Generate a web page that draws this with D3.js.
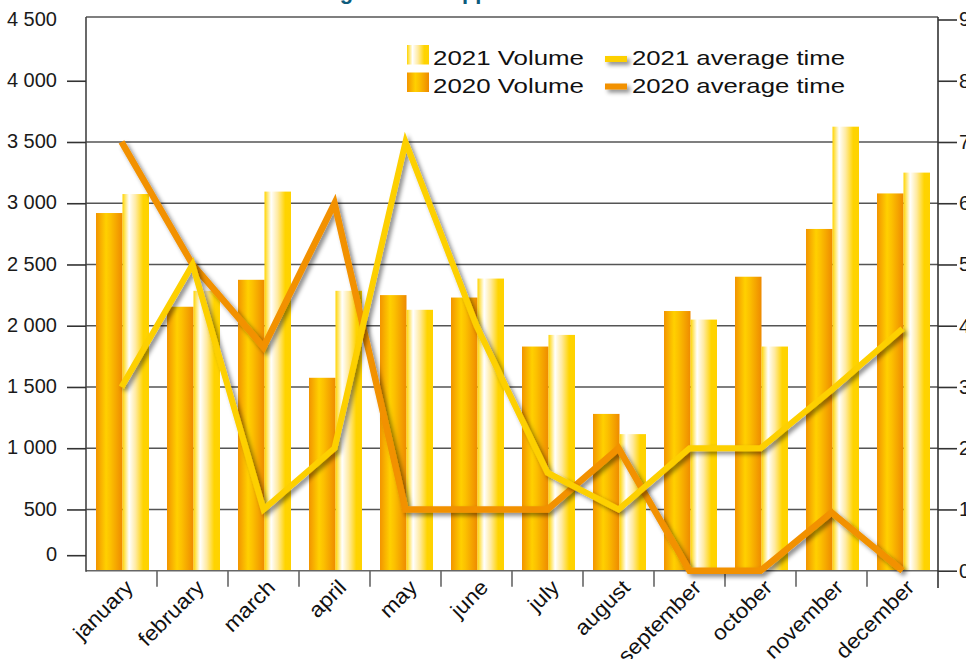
<!DOCTYPE html>
<html>
<head>
<meta charset="utf-8">
<script src="https://cdn.jsdelivr.net/npm/d3@7"></script>
<style>
  html, body { margin: 0; padding: 0; background: #fff; }
  svg { display: block; font-family: "Liberation Sans", Arial, sans-serif; }
</style>
</head>
<body>
<svg id="chart" width="966" height="659"></svg>
<script>
// ---- data ----
const months = ["january","february","march","april","may","june","july","august","september","october","november","december"];
const volume2020 = [2920, 2155, 2375, 1575, 2250, 2230, 1830, 1280, 2120, 2400, 2790, 3080];
const volume2021 = [3075, 2285, 3095, 2285, 2130, 2385, 1925, 1115, 2050, 1830, 3625, 3250];
const avgTime2021 = [3, 5, 1, 2, 7, 4, 1.6, 1, 2, 2, 2.95, 3.95];
const avgTime2020 = [7, 5, 3.65, 6, 1, 1, 1, 2, 0, 0, 0.95, 0];
const leftTicks = [0, 500, 1000, 1500, 2000, 2500, 3000, 3500, 4000, 4500];
const rightTicks = [0, 1, 2, 3, 4, 5, 6, 7, 8, 9];
const gridTicks = [500, 1000, 1500, 2000, 2500, 3000, 3500];
const seriesKeys = ["2020", "2021"];
const legendVolume = [{label: "2021 Volume", grad: "g2021"}, {label: "2020 Volume", grad: "g2020"}];
const legendTime = [{label: "2021 average time", color: "#fdd000"}, {label: "2020 average time", color: "#f29100"}];
const titleText = "Volume and average time of applications";

// ---- layout ----
const L = 86, R = 938, T = 17, B = 570.7;
const svg = d3.select("#chart");
const defs = svg.append("defs");

const g20 = defs.append("linearGradient").attr("id", "g2020").attr("x1", "0%").attr("x2", "100%").attr("y1", "0%").attr("y2", "0%");
[["0%", "#f29400"], ["38%", "#ffd000"], ["55%", "#fcc000"], ["100%", "#ee8a00"]].forEach(s => g20.append("stop").attr("offset", s[0]).attr("stop-color", s[1]));
const g21 = defs.append("linearGradient").attr("id", "g2021").attr("x1", "0%").attr("x2", "100%").attr("y1", "0%").attr("y2", "0%");
[["0%", "#ffd400"], ["25%", "#ffffff"], ["50%", "#ffeaa0"], ["78%", "#ffd400"], ["100%", "#ffd200"]].forEach(s => g21.append("stop").attr("offset", s[0]).attr("stop-color", s[1]));

const shadow = defs.append("filter").attr("id", "shadow").attr("filterUnits", "userSpaceOnUse")
  .attr("x", 0).attr("y", 0).attr("width", 966).attr("height", 659);
shadow.append("feDropShadow").attr("dx", 3).attr("dy", 3).attr("stdDeviation", 2).attr("flood-color", "#000").attr("flood-opacity", 0.45);

const x = d3.scaleBand().domain(months).range([L, R]).padding(0);
const xSub = d3.scaleBand().domain(seriesKeys).range([10, 63]).padding(0);
const yL = d3.scaleLinear().domain([0, 4500]).range([B, 19.5]);
const yR = d3.scaleLinear().domain([0, 9]).range([B, 19.5]);

// title (cut off at the top: only descenders show)
svg.append("text").attr("x", 153).attr("y", -1).attr("font-size", 22).attr("font-weight", "bold")
  .attr("fill", "#0d5b7c").text(titleText);

// gridlines
svg.append("g").selectAll("line").data(gridTicks).join("line")
  .attr("x1", L).attr("x2", R).attr("y1", d => yL(d)).attr("y2", d => yL(d))
  .attr("stroke", "#555").attr("stroke-width", 1.6);

// bars
const bars = svg.append("g");
months.forEach((m, i) => {
  const vals = [volume2020[i], volume2021[i]];
  bars.selectAll(null).data(seriesKeys.map((k, j) => ({k, v: vals[j]}))).join("rect")
    .attr("x", d => x(m) + xSub(d.k))
    .attr("width", xSub.bandwidth())
    .attr("y", d => yL(d.v))
    .attr("height", d => B - yL(d.v))
    .attr("fill", d => d.k === "2020" ? "url(#g2020)" : "url(#g2021)");
});

// bottom baseline
svg.append("line").attr("x1", L).attr("x2", R).attr("y1", B).attr("y2", B).attr("stroke", "#666").attr("stroke-width", 1.6);
// frame
svg.append("line").attr("x1", L).attr("x2", R).attr("y1", T).attr("y2", T).attr("stroke", "#555").attr("stroke-width", 1.6);
svg.append("line").attr("x1", L).attr("x2", L).attr("y1", T).attr("y2", B + 1).attr("stroke", "#444").attr("stroke-width", 1.6);
svg.append("line").attr("x1", R).attr("x2", R).attr("y1", T).attr("y2", 588).attr("stroke", "#333").attr("stroke-width", 1.6);

// left axis
const fmt = d => d3.format(",")(d).replace(/,/g, " ");
const axL = svg.append("g").attr("transform", `translate(${L},0)`)
  .call(d3.axisLeft(yL).tickValues(leftTicks).tickSize(19).tickPadding(10).tickFormat(fmt));
axL.select(".domain").remove();
axL.selectAll(".tick line").attr("stroke", "#333").attr("stroke-width", 1.6).filter(d => d === 4500).remove();
axL.selectAll(".tick").filter(d => d === 0).attr("transform", `translate(0,${yL(0) - 15})`);
axL.selectAll(".tick text").attr("font-size", 20).attr("fill", "#1a1a1a").attr("font-family", "'Liberation Sans', Arial, sans-serif").attr("dy", "0.28em");

// right axis
const axR = svg.append("g").attr("transform", `translate(${R},0)`)
  .call(d3.axisRight(yR).tickValues(rightTicks).tickSize(19).tickPadding(2));
axR.select(".domain").remove();
axR.selectAll(".tick line").attr("stroke", "#333").attr("stroke-width", 1.6);
axR.selectAll(".tick text").attr("font-size", 20).attr("fill", "#1a1a1a").attr("font-family", "'Liberation Sans', Arial, sans-serif").attr("dy", "0.32em");

// bottom axis
const axB = svg.append("g").attr("transform", `translate(0,${B})`)
  .call(d3.axisBottom(x).tickSize(0).tickPadding(0));
axB.select(".domain").remove();
axB.selectAll(".tick text")
  .attr("font-size", 21).attr("fill", "#111").attr("font-family", "'Liberation Sans', Arial, sans-serif")
  .attr("text-anchor", "end").attr("dy", 0).attr("y", 0)
  .attr("transform", "translate(13,18) rotate(-45) scale(1.08,1)");
svg.append("g").selectAll("line").data(months.slice(1)).join("line")
  .attr("x1", d => x(d)).attr("x2", d => x(d)).attr("y1", B).attr("y2", B + 16)
  .attr("stroke", "#666").attr("stroke-width", 1.6);

// lines
const line = d3.line().x((d, i) => x(months[i]) + x.bandwidth() / 2).y(d => yR(d)).curve(d3.curveLinear);
svg.append("path").datum(avgTime2020).attr("d", line).attr("fill", "none")
  .attr("stroke", "#f29100").attr("stroke-width", 6.5).attr("stroke-linejoin", "miter").attr("stroke-miterlimit", 10)
  .attr("filter", "url(#shadow)");
svg.append("path").datum(avgTime2021).attr("d", line).attr("fill", "none")
  .attr("stroke", "#fdd000").attr("stroke-width", 6).attr("stroke-linejoin", "miter").attr("stroke-miterlimit", 10)
  .attr("filter", "url(#shadow)");

// legend
const lg = svg.append("g");
legendVolume.forEach((d, i) => {
  const yy = 45 + i * 27.5;
  lg.append("rect").attr("x", 407).attr("y", yy).attr("width", 22).attr("height", 19.5).attr("fill", `url(#${d.grad})`);
  lg.append("text").attr("x", 433).attr("y", yy + 20).attr("font-size", 21).attr("fill", "#111")
    .attr("textLength", 151).attr("lengthAdjust", "spacingAndGlyphs").text(d.label);
});
legendTime.forEach((d, i) => {
  const yy = 45 + i * 27.5;
  lg.append("rect").attr("x", 605).attr("y", yy + 11).attr("width", 22).attr("height", 6)
    .attr("fill", d.color).attr("filter", "url(#shadow)");
  lg.append("text").attr("x", 632).attr("y", yy + 20).attr("font-size", 21).attr("fill", "#111")
    .attr("textLength", 213).attr("lengthAdjust", "spacingAndGlyphs").text(d.label);
});
</script>
</body>
</html>
